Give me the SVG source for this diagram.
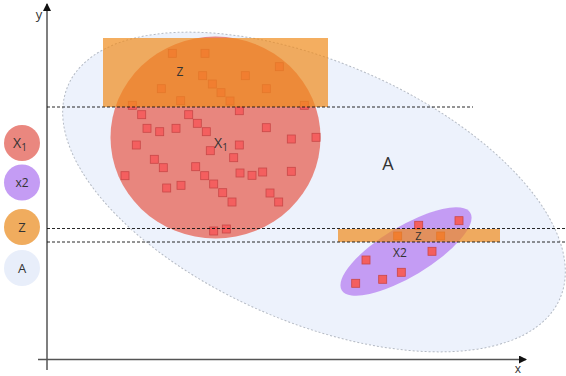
<svg xmlns="http://www.w3.org/2000/svg" width="566" height="376" viewBox="0 0 566 376">
<style>
.lbl{font-family:"Open Sans","Liberation Sans",sans-serif;fill:#333;text-anchor:middle}
.pt{fill:#f45f5f;stroke:#c84848;stroke-width:0.8}
.dash{stroke:#111;stroke-width:0.9;stroke-dasharray:3 2;fill:none}
.axis{stroke:#555;stroke-width:1.5;fill:none}
</style>
<defs>
<marker id="arr" markerWidth="8" markerHeight="8" refX="7" refY="4" orient="auto" markerUnits="userSpaceOnUse">
<path d="M0,0 L8,4 L0,8 Z" fill="#111"/>
</marker>
<g id="sq"><rect x="-4" y="-4" width="8" height="8" class="pt"/></g>
</defs>
<rect width="566" height="376" fill="#fff"/>
<g id="axes">
<line class="axis" x1="47" y1="370" x2="47" y2="4" marker-end="url(#arr)"/>
<line class="axis" x1="38" y1="359.5" x2="526" y2="359.5" marker-end="url(#arr)"/>
<text class="lbl" x="39" y="19" font-size="13" fill="#333">y</text>
<text class="lbl" x="518" y="373" font-size="12">x</text>
</g>
<g id="A">
<ellipse cx="314" cy="192" rx="268" ry="130" transform="rotate(23.4 314 192)" fill="#edf2fc" stroke="#b4bac4" stroke-width="1" stroke-dasharray="2 2"/>
<text class="lbl" x="388" y="170" font-size="18">A</text>
</g>
<g id="X1">
<ellipse cx="215.5" cy="137.5" rx="105" ry="101" fill="#e8867e"/>
</g>
<g id="X2">
<ellipse cx="406" cy="251.5" rx="75" ry="25" transform="rotate(-31 406 251.5)" fill="#c49cf4"/>
</g>
<g id="points">
<use href="#sq" x="172.3" y="53.3"/><use href="#sq" x="205" y="53.3"/><use href="#sq" x="279.3" y="66.7"/>
<use href="#sq" x="202.7" y="75.7"/><use href="#sq" x="245.3" y="75.7"/><use href="#sq" x="212.3" y="84"/>
<use href="#sq" x="161.3" y="88.7"/><use href="#sq" x="266.3" y="88.7"/><use href="#sq" x="221" y="92.7"/>
<use href="#sq" x="180.7" y="100.7"/><use href="#sq" x="230" y="101"/><use href="#sq" x="132.3" y="105.3"/>
<use href="#sq" x="304.3" y="105.3"/><use href="#sq" x="239.3" y="110.7"/><use href="#sq" x="141.7" y="114.7"/>
<use href="#sq" x="188.7" y="114.7"/><use href="#sq" x="197.3" y="123.3"/><use href="#sq" x="147" y="128.3"/>
<use href="#sq" x="159.7" y="131.7"/><use href="#sq" x="176" y="128.3"/><use href="#sq" x="206.3" y="131.7"/>
<use href="#sq" x="266.3" y="127.7"/><use href="#sq" x="291.3" y="139"/><use href="#sq" x="316" y="137.3"/>
<use href="#sq" x="136.3" y="145"/><use href="#sq" x="239.3" y="145"/><use href="#sq" x="210.3" y="150.7"/>
<use href="#sq" x="233.7" y="157.7"/><use href="#sq" x="154.3" y="159.3"/><use href="#sq" x="163.3" y="167.7"/>
<use href="#sq" x="195.7" y="166.7"/><use href="#sq" x="125" y="175.7"/><use href="#sq" x="204.7" y="175.7"/>
<use href="#sq" x="240" y="173"/><use href="#sq" x="252" y="175.3"/><use href="#sq" x="262.7" y="172"/>
<use href="#sq" x="291.3" y="171.3"/><use href="#sq" x="166.7" y="188"/><use href="#sq" x="181" y="185.3"/>
<use href="#sq" x="213.7" y="184"/><use href="#sq" x="222.7" y="192.7"/><use href="#sq" x="232" y="202"/>
<use href="#sq" x="270" y="193"/><use href="#sq" x="278.7" y="202"/><use href="#sq" x="213.7" y="231"/>
<use href="#sq" x="226.3" y="229"/>
<use href="#sq" x="459" y="220.7"/><use href="#sq" x="418.7" y="225.3"/><use href="#sq" x="397.7" y="236"/>
<use href="#sq" x="440.7" y="236"/><use href="#sq" x="432" y="251.3"/><use href="#sq" x="366" y="260"/>
<use href="#sq" x="401.3" y="272.3"/><use href="#sq" x="382.7" y="279.3"/><use href="#sq" x="355.7" y="283.3"/>
</g>
<g id="X1-label">
<text class="lbl" x="221" y="148" font-size="14">X<tspan font-size="10" dy="3">1</tspan></text>
</g>
<g id="X2-label">
<text class="lbl" x="400" y="256.5" font-size="12" fill="#3a2d4a">X2</text>
</g>
<g id="Z-top">
<rect x="103" y="38" width="225" height="69" fill="#f08c1c" fill-opacity="0.7"/>
<text class="lbl" x="180" y="76" font-size="12" fill="#9a5c2c">Z</text>
</g>
<g id="Z-band">
<rect x="338" y="229" width="162" height="13" fill="#f08c1c" fill-opacity="0.7"/>
<text class="lbl" x="418.5" y="240" font-size="11" fill="#4a3a30">Z</text>
</g>
<g id="connectors">
<line class="dash" x1="47" y1="107" x2="473" y2="107"/>
<line class="dash" x1="47" y1="228.5" x2="566" y2="228.5"/>
<line class="dash" x1="47" y1="242" x2="566" y2="242"/>
</g>
<g id="legend-X1"><circle cx="22" cy="143" r="18" fill="#ea877f"/><text class="lbl" x="20" y="148" font-size="14">X<tspan font-size="10" dy="3">1</tspan></text></g>
<g id="legend-X2"><circle cx="22" cy="182.5" r="18" fill="#c49cf4"/><text class="lbl" x="22" y="187" font-size="12">x2</text></g>
<g id="legend-Z"><circle cx="22" cy="227" r="18" fill="#f0ac5e"/><text class="lbl" x="22" y="232" font-size="13">Z</text></g>
<g id="legend-A"><circle cx="22" cy="268" r="18" fill="#e8eefa"/><text class="lbl" x="22" y="273" font-size="13">A</text></g>
</svg>
